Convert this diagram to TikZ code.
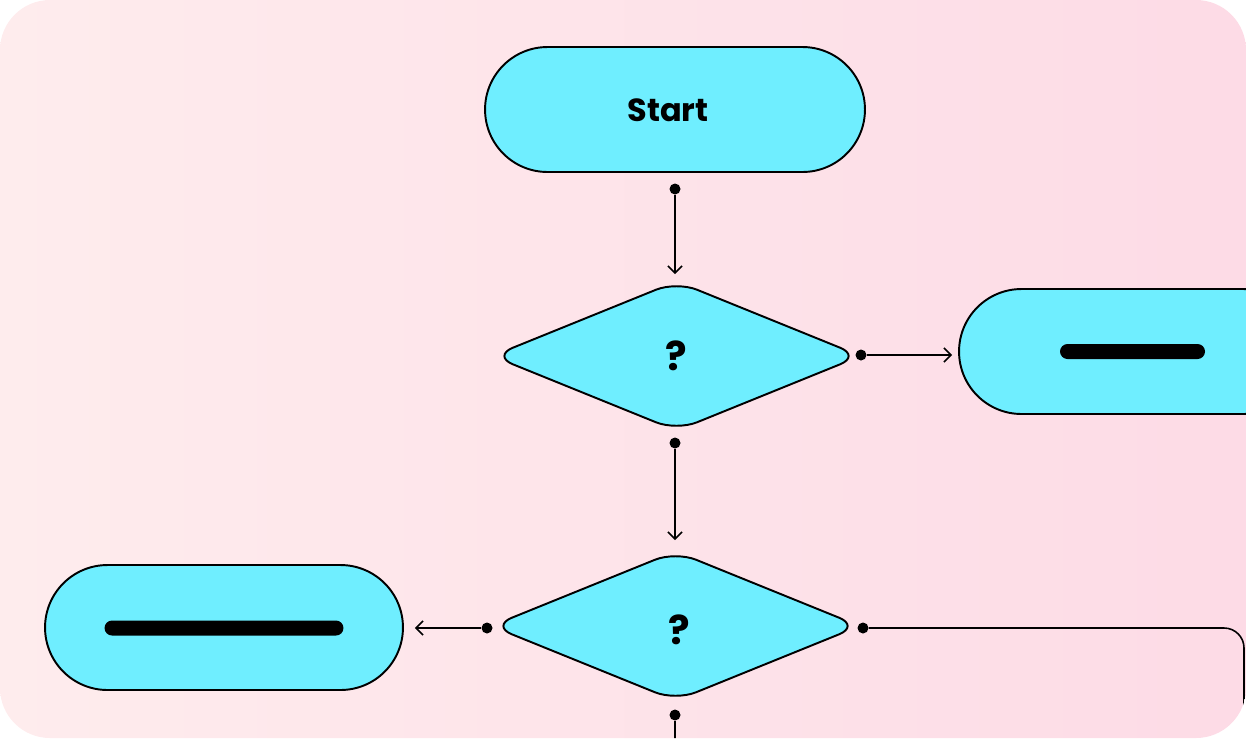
\documentclass[tikz,border=0pt]{standalone}
\usepackage{fontspec}
\newfontfamily\poppins{Poppins}
\usetikzlibrary{arrows.meta}
\usetikzlibrary{positioning}
\usetikzlibrary{shapes.geometric}
\definecolor{boxcyan}{RGB}{111,238,255}
\definecolor{bgleft}{RGB}{254,236,237}
\definecolor{bgright}{RGB}{253,219,230}
\tikzset{circ/.style = {fill, circle, inner sep = 0, minimum size = 0.22cm}}
\tikzset{term/.style = {draw, fill = boxcyan, line width = 1.1pt, rounded corners = 1.25cm,
    minimum height = 2.5cm, inner sep = 0}}
\tikzset{decide/.style = {draw, fill = boxcyan, diamond, line width = 1.1pt, rounded corners = 0.44cm,
    minimum width = 7.38cm, minimum height = 3cm, inner sep = 0}}
\tikzset{word/.style = {font = \poppins\bfseries\fontsize{18.2}{22}\selectfont}}
\tikzset{askmark/.style = {font = \poppins\bfseries\fontsize{22.8}{26}\selectfont}}
\tikzset{bar/.style = {fill, rounded corners = 0.15cm, inner sep = 0, minimum height = 0.3cm}}
\tikzset{flow/.style = {-{Straight Barb[length = 4pt, width = 8pt, line width = 0.9pt]}, line width = 0.9pt}}
\tikzset{link/.style = {line width = 0.9pt, rounded corners = 0.4cm}}

\begin{document}
\begin{tikzpicture}[x = 0.02cm, y = -0.02cm]
    \useasboundingbox (0, 0) rectangle (1246, 738);
    \begin{scope}
    \clip [rounded corners = 1cm] (0, 0) rectangle (1246, 738);
    \shade [left color = bgleft, right color = bgright] (0, 0) rectangle (1246, 738);

    % top of the chart
    \node [term, minimum width = 7.6cm] (start) at (675, 109.5) {};
    \node [word] (startText) at (668, 110) {Start};
    \node [circ] (d1) at (675, 189) {};

    \node [decide] (q1) at (676.5, 356) {};
    \node [askmark] (q1mark) at (676, 356) {?};
    \node [circ] (d2) at (861, 355) {};
    \node [circ] (d3) at (675, 443) {};

    \node [term, minimum width = 6.94cm] (resR) at (1132.5, 351.5) {};
    \node [bar, minimum width = 2.9cm] (barR) at (resR) {};

    % lower decision
    \node [decide] (q2) at (675.5, 626) {};
    \node [askmark] (q2mark) at (679, 630) {?};
    \node [circ] (d4) at (487, 628) {};
    \node [circ] (d5) at (863, 628) {};
    \node [circ] (d6) at (675, 715) {};

    \node [term, minimum width = 7.16cm] (resL) at (224, 627.5) {};
    \node [bar, minimum width = 4.78cm] (barL) at (224, 628) {};

    \coordinate (exitR) at (1244, 780);
    \coordinate (exitB) at (675, 780);

    \draw [flow, shorten > = 0.12cm] (d1) -- (d1 |- q1.north);
    \draw [flow, shorten > = 0.12cm] (d2) -- (resR.west |- d2);
    \draw [flow, shorten > = 0.2cm] (d3) -- (d3 |- q2.north);
    \draw [flow, shorten > = 0.22cm] (d4) -- (resL.east |- d4);
    \draw [link] (d5) -| (exitR);
    \draw [link] (d6) -- (exitB);
    \end{scope}
  \end{tikzpicture}
\end{document}
